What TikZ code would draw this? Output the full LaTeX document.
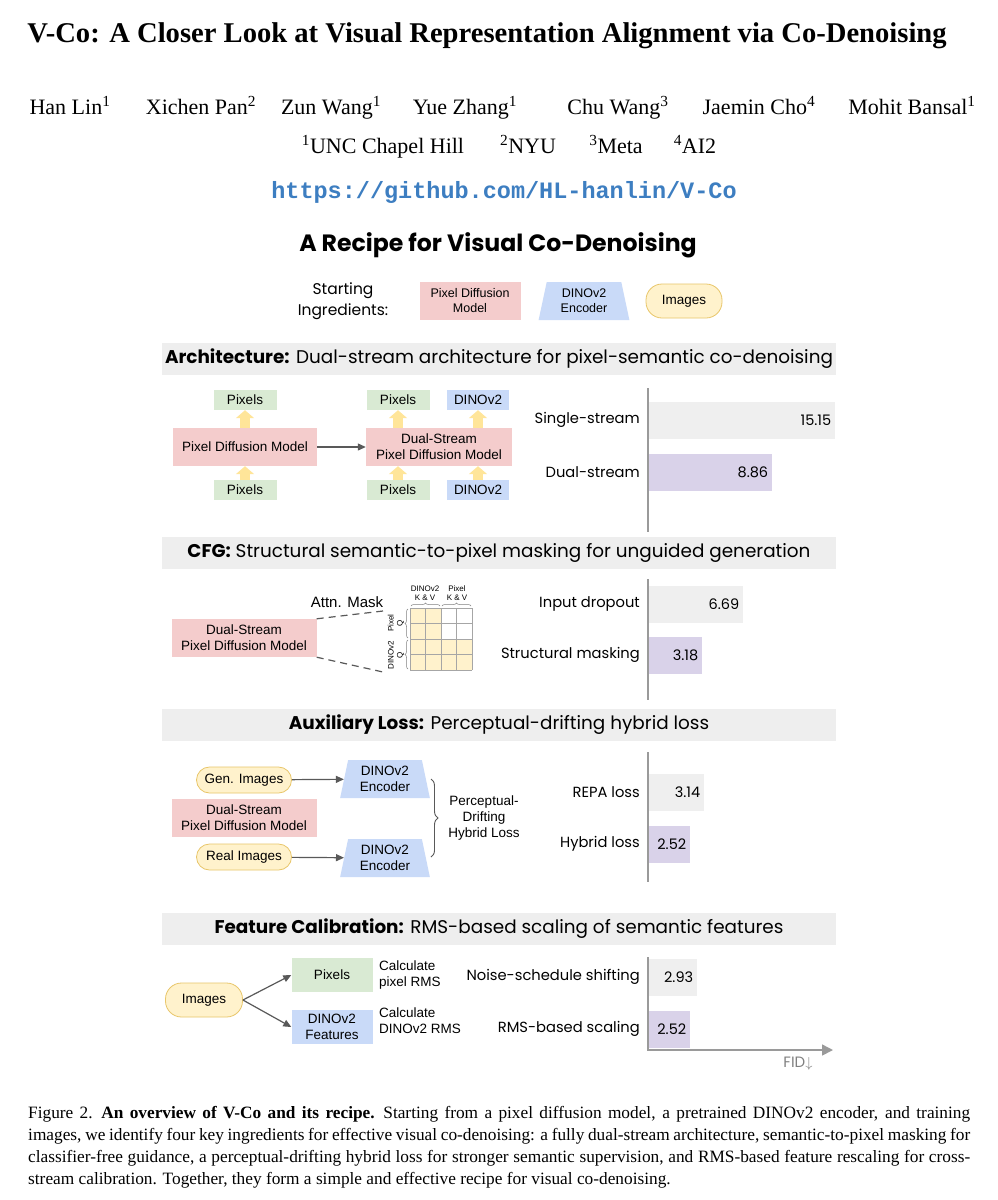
\documentclass[tikz,border=0pt]{standalone}
\usepackage{fontspec}
\setmainfont{Liberation Serif}
\newfontfamily\arialfont{Liberation Sans}
\newfontfamily\comicfont{Poppins}
\newfontfamily\urlfont{Liberation Mono}
\usetikzlibrary{shapes.geometric,arrows.meta,decorations.pathreplacing,positioning}

\definecolor{pinkfill}{HTML}{F4CCCC}
\definecolor{greenfill}{HTML}{D9EAD3}
\definecolor{bluefill}{HTML}{C9DAF8}
\definecolor{yellowfill}{HTML}{FFF2CC}
\definecolor{yellowline}{HTML}{E8C66A}
\definecolor{arrowyellow}{HTML}{FFE599}
\definecolor{bargray}{HTML}{EFEFEF}
\definecolor{barpurple}{HTML}{D9D2E9}
\definecolor{headgray}{HTML}{EEEEEE}
\definecolor{urlblue}{HTML}{3D7EC1}
\definecolor{linegray}{HTML}{595959}
\definecolor{axisgray}{HTML}{9A9A9A}

\newcommand{\boxfont}{\arialfont\fontsize{13.5}{16}\selectfont}
\newcommand{\handfont}{\comicfont\fontsize{14.7}{21}\selectfont}
\newcommand{\namefont}{\fontsize{22}{26}\selectfont}

\tikzset{
	modelbox/.style={fill=pinkfill, font=\boxfont, align=center, inner sep=0pt},
	pixbox/.style={fill=greenfill, font=\boxfont, align=center, inner sep=0pt, minimum width=63pt, minimum height=20pt},
	dinobox/.style={fill=bluefill, font=\boxfont, align=center, inner sep=0pt, minimum width=62pt, minimum height=20pt},
	encoder/.style={trapezium, trapezium stretches=true, trapezium angle=78, fill=bluefill, font=\boxfont, align=center, inner sep=0pt},
	pill/.style={fill=yellowfill, draw=yellowline, line width=0.8pt, rounded corners=16pt, font=\boxfont, inner sep=0pt},
	uparrow/.style={draw=arrowyellow, line width=10pt, -{Triangle[width=18pt,length=8pt]}},
	grayarrow/.style={draw=linegray, line width=1.2pt, -{Triangle[width=7pt,length=8pt]}},
	header/.style={fill=headgray, minimum width=674pt, minimum height=32pt, inner sep=0pt, font=\comicfont\fontsize{18.4}{22}\selectfont},
	barlabel/.style={anchor=east, inner sep=0pt, font=\handfont},
	graybar/.style={fill=bargray, anchor=west, minimum height=37pt, inner sep=0pt},
	purplebar/.style={fill=barpurple, anchor=west, minimum height=37pt, inner sep=0pt},
	barvalue/.style={anchor=east, inner sep=4pt, font=\comicfont\fontsize{14.5}{18}\selectfont},
	axisline/.style={draw=axisgray, line width=1.6pt},
	tinylabel/.style={font=\arialfont\fontsize{8}{9}\selectfont, align=center, inner sep=0pt},
	authorname/.style={anchor=base, inner sep=0pt, font=\namefont}
}

\begin{document}
\begin{tikzpicture}[x=1pt, y=-1pt]
	\fill[white] (0,0) rectangle (998,1200);
	\useasboundingbox (0,0) rectangle (998,1200);

	% title and authors
	\node[anchor=base, inner sep=0pt, font=\bfseries\fontsize{28.6}{32}\selectfont] (title) at (487, 42) {V-Co: A Closer Look at Visual Representation Alignment via Co-Denoising};
	\node[authorname] (a1) at (70, 114) {Han Lin\textsuperscript{1}};
	\node[authorname] (a2) at (201, 114) {Xichen Pan\textsuperscript{2}};
	\node[authorname] (a3) at (331, 114) {Zun Wang\textsuperscript{1}};
	\node[authorname] (a4) at (465, 114) {Yue Zhang\textsuperscript{1}};
	\node[authorname] (a5) at (618, 114) {Chu Wang\textsuperscript{3}};
	\node[authorname] (a6) at (759, 114) {Jaemin Cho\textsuperscript{4}};
	\node[authorname] (a7) at (912, 114) {Mohit Bansal\textsuperscript{1}};
	\node[authorname] (f1) at (383, 153) {\textsuperscript{1}UNC Chapel Hill};
	\node[authorname] (f2) at (528, 153) {\textsuperscript{2}NYU};
	\node[authorname] (f3) at (616, 153) {\textsuperscript{3}Meta};
	\node[authorname] (f4) at (695, 153) {\textsuperscript{4}AI2};
	\node[font=\urlfont\bfseries\fontsize{23.5}{26}\selectfont, text=urlblue] (url) at (504, 192) {https://github.com/HL-hanlin/V-Co};

	% recipe
	\node[font=\comicfont\bfseries\fontsize{23.6}{26}\selectfont] (recipe) at (498, 245) {A Recipe for Visual Co-Denoising};
	\node[font=\comicfont\fontsize{15.5}{21}\selectfont, align=center, inner sep=0pt] (start) at (343, 301) {Starting\\Ingredients:};
	\node[modelbox, minimum width=101pt, minimum height=38pt, font=\arialfont\fontsize{12.5}{15}\selectfont] (ingmodel) at (470, 301) {Pixel Diffusion\\Model};
	\node[encoder, minimum width=91pt, minimum height=38pt, font=\arialfont\fontsize{12.5}{15}\selectfont] (ingenc) at (584, 301) {DINOv2\\Encoder};
	\node[pill, minimum width=76pt, minimum height=34pt] (ingimg) at (684, 301) {Images};

	% Architecture
	\node[header] (h1) at (499, 359) {\textbf{Architecture:} Dual-stream architecture for pixel-semantic co-denoising};
	% modules
	\node[modelbox, minimum width=144pt, minimum height=38pt] (pdm) at (245, 447) {Pixel Diffusion Model};
	\node[pixbox] (pixout) at (245, 400) {Pixels};
	\node[pixbox] (pixin) at (245, 490) {Pixels};
	\node[modelbox, minimum width=146pt, minimum height=38pt] (ds) at (439, 447) {Dual-Stream\\Pixel Diffusion Model};
	\node[pixbox] (pixout2) at (398, 400) {Pixels};
	\node[pixbox] (pixin2) at (398, 490) {Pixels};
	\node[dinobox] (dinoout) at (478, 400) {DINOv2};
	\node[dinobox] (dinoin) at (478, 490) {DINOv2};
	% lines
	\draw[uparrow] (pixin) -- (pdm);
	\draw[uparrow] (pdm) -- (pixout);
	\draw[uparrow] (pixin2) -- (pixin2 |- ds.south);
	\draw[uparrow] (pixout2 |- ds.north) -- (pixout2);
	\draw[uparrow] (dinoin) -- (dinoin |- ds.south);
	\draw[uparrow] (dinoout |- ds.north) -- (dinoout);
	\draw[grayarrow] (pdm) -- (ds);
	% bars
	\draw[axisline] (648, 388) -- (648, 532);
	\node[graybar, minimum width=186pt] (b11) at (649, 420) {};
	\node[purplebar, minimum width=123pt] (b12) at (649, 472) {};
	\node[barvalue] (v11) at (b11.east) {15.15};
	\node[barvalue] (v12) at (b12.east) {8.86};
	\node[barlabel] (l11) at (640, 420) {Single-stream};
	\node[barlabel] (l12) at (640, 472) {Dual-stream};

	% CFG
	\node[header] (h2) at (499, 553) {\textbf{CFG:} Structural semantic-to-pixel masking for unguided generation};
	% modules
	\node[modelbox, minimum width=145pt, minimum height=38pt] (ds2) at (244, 638) {Dual-Stream\\Pixel Diffusion Model};
	\node[font=\arialfont\fontsize{15}{18}\selectfont, inner sep=0pt] (attn) at (347, 602) {Attn. Mask};
	\coordinate (mtop) at (383, 611);
	\coordinate (mbot) at (383, 672);
	\draw[linegray, line width=1.2pt, dash pattern=on 7pt off 5pt] (ds2.north east) -- (mtop);
	\draw[linegray, line width=1.2pt, dash pattern=on 7pt off 5pt] (ds2.south east) -- (mbot);
	% mask grid
	\fill[yellowfill] (410, 608) rectangle (441, 670);
	\fill[yellowfill] (441, 639) rectangle (472, 670);
	\foreach \i in {0,...,4} {
		\draw[gray!70, line width=0.6pt] (410 + \i*15.5, 608) -- (410 + \i*15.5, 670);
		\draw[gray!70, line width=0.6pt] (410, 608 + \i*15.5) -- (472, 608 + \i*15.5);
	}
	\draw[gray, line width=0.5pt, decorate, decoration={brace, amplitude=3pt}] (411, 606) -- (440, 606);
	\draw[gray, line width=0.5pt, decorate, decoration={brace, amplitude=3pt}] (442, 606) -- (471, 606);
	\draw[gray, line width=0.5pt, decorate, decoration={brace, amplitude=3pt}] (408, 638) -- (408, 609);
	\draw[gray, line width=0.5pt, decorate, decoration={brace, amplitude=3pt}] (408, 669) -- (408, 640);
	\node[tinylabel] (kdino) at (425, 593) {DINOv2\\K \& V};
	\node[tinylabel] (kpix) at (457, 593) {Pixel\\K \& V};
	\node[tinylabel, rotate=90] (qpix) at (396, 623) {Pixel\\Q};
	\node[tinylabel, rotate=90] (qdino) at (396, 655) {DINOv2\\Q};
	% bars
	\draw[axisline] (648, 579) -- (648, 700);
	\node[graybar, minimum width=94pt] (b21) at (649, 604) {};
	\node[purplebar, minimum width=53pt] (b22) at (649, 655) {};
	\node[barvalue] (v21) at (b21.east) {6.69};
	\node[barvalue] (v22) at (b22.east) {3.18};
	\node[barlabel] (l21) at (640, 604) {Input dropout};
	\node[barlabel] (l22) at (640, 655) {Structural masking};

	% Auxiliary loss
	\node[header] (h3) at (499, 725) {\textbf{Auxiliary Loss:} Perceptual-drifting hybrid loss};
	% modules
	\node[pill, minimum width=95pt, minimum height=26pt, rounded corners=13pt] (gen) at (244, 780) {Gen. Images};
	\node[pill, minimum width=95pt, minimum height=26pt, rounded corners=13pt] (real) at (244, 857) {Real Images};
	\node[modelbox, minimum width=145pt, minimum height=38pt] (ds3) at (244, 818) {Dual-Stream\\Pixel Diffusion Model};
	\node[encoder, minimum width=90pt, minimum height=38pt] (enc1) at (385, 779) {DINOv2\\Encoder};
	\node[encoder, minimum width=90pt, minimum height=38pt] (enc2) at (385, 858) {DINOv2\\Encoder};
	\node[font=\boxfont, align=center, inner sep=0pt] (hybrid) at (484, 818) {Perceptual-\\Drifting\\Hybrid Loss};
	% lines
	\draw[grayarrow] (gen) -- (enc1);
	\draw[grayarrow] (real) -- (enc2);
	\draw[linegray, line width=0.9pt, decorate, decoration={brace, amplitude=7pt}] (431, 779) -- (431, 857);
	% bars
	\draw[axisline] (648, 752) -- (648, 882);
	\node[graybar, minimum width=55pt] (b31) at (649, 792) {};
	\node[purplebar, minimum width=41pt] (b32) at (649, 844) {};
	\node[barvalue] (v31) at (b31.east) {3.14};
	\node[barvalue] (v32) at (b32.east) {2.52};
	\node[barlabel] (l31) at (640, 792) {REPA loss};
	\node[barlabel] (l32) at (640, 844) {Hybrid loss};

	% Feature calibration
	\node[header] (h4) at (499, 929) {\textbf{Feature Calibration:} RMS-based scaling of semantic features};
	% modules
	\node[pill, minimum width=77pt, minimum height=34pt] (imgs) at (204, 1000) {Images};
	\node[pixbox, minimum width=81pt, minimum height=34pt] (pix3) at (332, 975) {Pixels};
	\node[dinobox, minimum width=81pt, minimum height=34pt] (dfeat) at (332, 1027) {DINOv2\\Features};
	\node[font=\boxfont, align=left, anchor=west, inner sep=0pt] (rms1) at (379, 975) {Calculate\\pixel RMS};
	\node[font=\boxfont, align=left, anchor=west, inner sep=0pt] (rms2) at (379, 1021) {Calculate\\DINOv2 RMS};
	% lines
	\draw[grayarrow] (imgs.east) -- (pix3.west);
	\draw[grayarrow] (imgs.east) -- (dfeat.west);
	% bars
	\node[graybar, minimum width=48pt] (b41) at (649, 977) {};
	\node[purplebar, minimum width=41pt] (b42) at (649, 1029) {};
	\node[barvalue] (v41) at (b41.east) {2.93};
	\node[barvalue] (v42) at (b42.east) {2.52};
	\node[barlabel] (l41) at (640, 977) {Noise-schedule shifting};
	\node[barlabel] (l42) at (640, 1029) {RMS-based scaling};
	\draw[axisline, -{Triangle[width=11pt,length=11pt]}] (648, 957) -- (648, 1050) -- (833, 1050);
	\node[font=\comicfont\fontsize{15}{16}\selectfont, text=gray, inner sep=0pt] (fid) at (798, 1064) {FID$\downarrow$};

	% caption
	\node[anchor=north west, text width=942pt, align=justify, inner sep=0pt, font=\fontsize{17.3}{22}\selectfont] (cap) at (28, 1106) {Figure 2.\hspace{0.5em}\textbf{An overview of V-Co and its recipe.}\hspace{0.5em}Starting from a pixel diffusion model, a pretrained DINOv2 encoder, and training\linebreak images, we identify four key ingredients for effective visual co-denoising: a fully dual-stream architecture, semantic-to-pixel masking for\linebreak classifier-free guidance, a perceptual-drifting hybrid loss for stronger semantic supervision, and RMS-based feature rescaling for cross-\linebreak stream calibration. Together, they form a simple and effective recipe for visual co-denoising.};
\end{tikzpicture}
\end{document}
